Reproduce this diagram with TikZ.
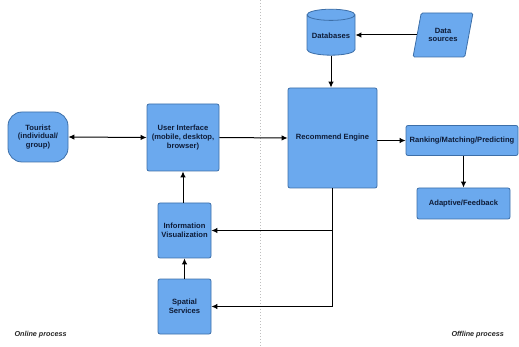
\documentclass[tikz,border=0pt]{standalone}
\usepackage{fontspec}
\setmainfont{Liberation Sans}
\usetikzlibrary{shapes.geometric,arrows.meta}
\definecolor{boxfill}{HTML}{6BA9EE}
\definecolor{boxline}{HTML}{3D6FA8}
\definecolor{txt}{HTML}{0E1C38}
\begin{document}
\begin{tikzpicture}[x=1pt,y=-1pt,>={Latex[length=6pt,width=5.5pt]},
  box/.style={draw=boxline,fill=boxfill,line width=0.8pt,rounded corners=2pt,align=center,
    font=\fontsize{7.6}{8.8}\selectfont\bfseries,text=txt,inner sep=1pt},
  conn/.style={line width=1pt,->},
  line/.style={line width=1pt},
  lbl/.style={font=\fontsize{7.2}{8}\selectfont\bfseries\itshape,text=black!85}]
\useasboundingbox (0,0) rectangle (519,347);
\draw[gray!50,line width=1pt,dotted] (260,0) -- (260,347);
\node[box,rounded corners=14pt,minimum width=60pt,minimum height=50pt] (tourist) at (38,137) {Tourist\\(individual/\\group)};
\node[box,minimum width=72pt,minimum height=67pt] (ui) at (183,137.5) {User Interface\\(mobile, desktop,\\browser)};
\node[box,minimum width=89pt,minimum height=100pt] (re) at (332.5,138) {Recommend Engine};
\node[box,shape=cylinder,shape border rotate=90,aspect=0.28,minimum width=48pt,minimum height=46pt,rounded corners=0pt] (db) at (331,36) {Databases};
\node[box,shape=trapezium,trapezium left angle=70,trapezium right angle=110,trapezium stretches=true,rounded corners=1.5pt,minimum width=60pt,minimum height=44pt] (ds) at (443,35) {Data\\sources};
\node[box,minimum width=112pt,minimum height=30pt] (rank) at (462,140.5) {Ranking/Matching/Predicting};
\node[box,minimum width=93pt,minimum height=31pt] (adapt) at (463.5,203.5) {Adaptive/Feedback};
\node[box,minimum width=53pt,minimum height=55pt] (iv) at (184.5,230.5) {Information\\Visualization};
\node[box,minimum width=53pt,minimum height=55pt] (ss) at (184.5,306.5) {Spatial\\Services};
\node[lbl,anchor=west] (on) at (11,335) {Online process};
\node[lbl,anchor=west] (off) at (448,335) {Offline process};
\draw[line,<->] (tourist.east) -- (ui.west);
\draw[conn] (ui.east) -- (re.west);
\draw[conn] (ds.west) -- (db.east |- ds.west);
\draw[conn] (db.bottom) -- (re.north -| db.bottom);
\draw[conn] (re.east |- rank.west) -- (rank.west);
\draw[conn] (adapt.north |- rank.south) -- (adapt.north);
\draw[conn] (iv.north -| ui.south) -- (ui.south);
\draw[conn] (ss.north) -- (iv.south);
\coordinate (j1) at (re.south |- iv.east);
\coordinate (j2) at (re.south |- ss.east);
\draw[line] (re.south) -- (j2);
\draw[conn] (j1) -- (iv.east);
\draw[conn] (j2) -- (ss.east);
\end{tikzpicture}
\end{document}
